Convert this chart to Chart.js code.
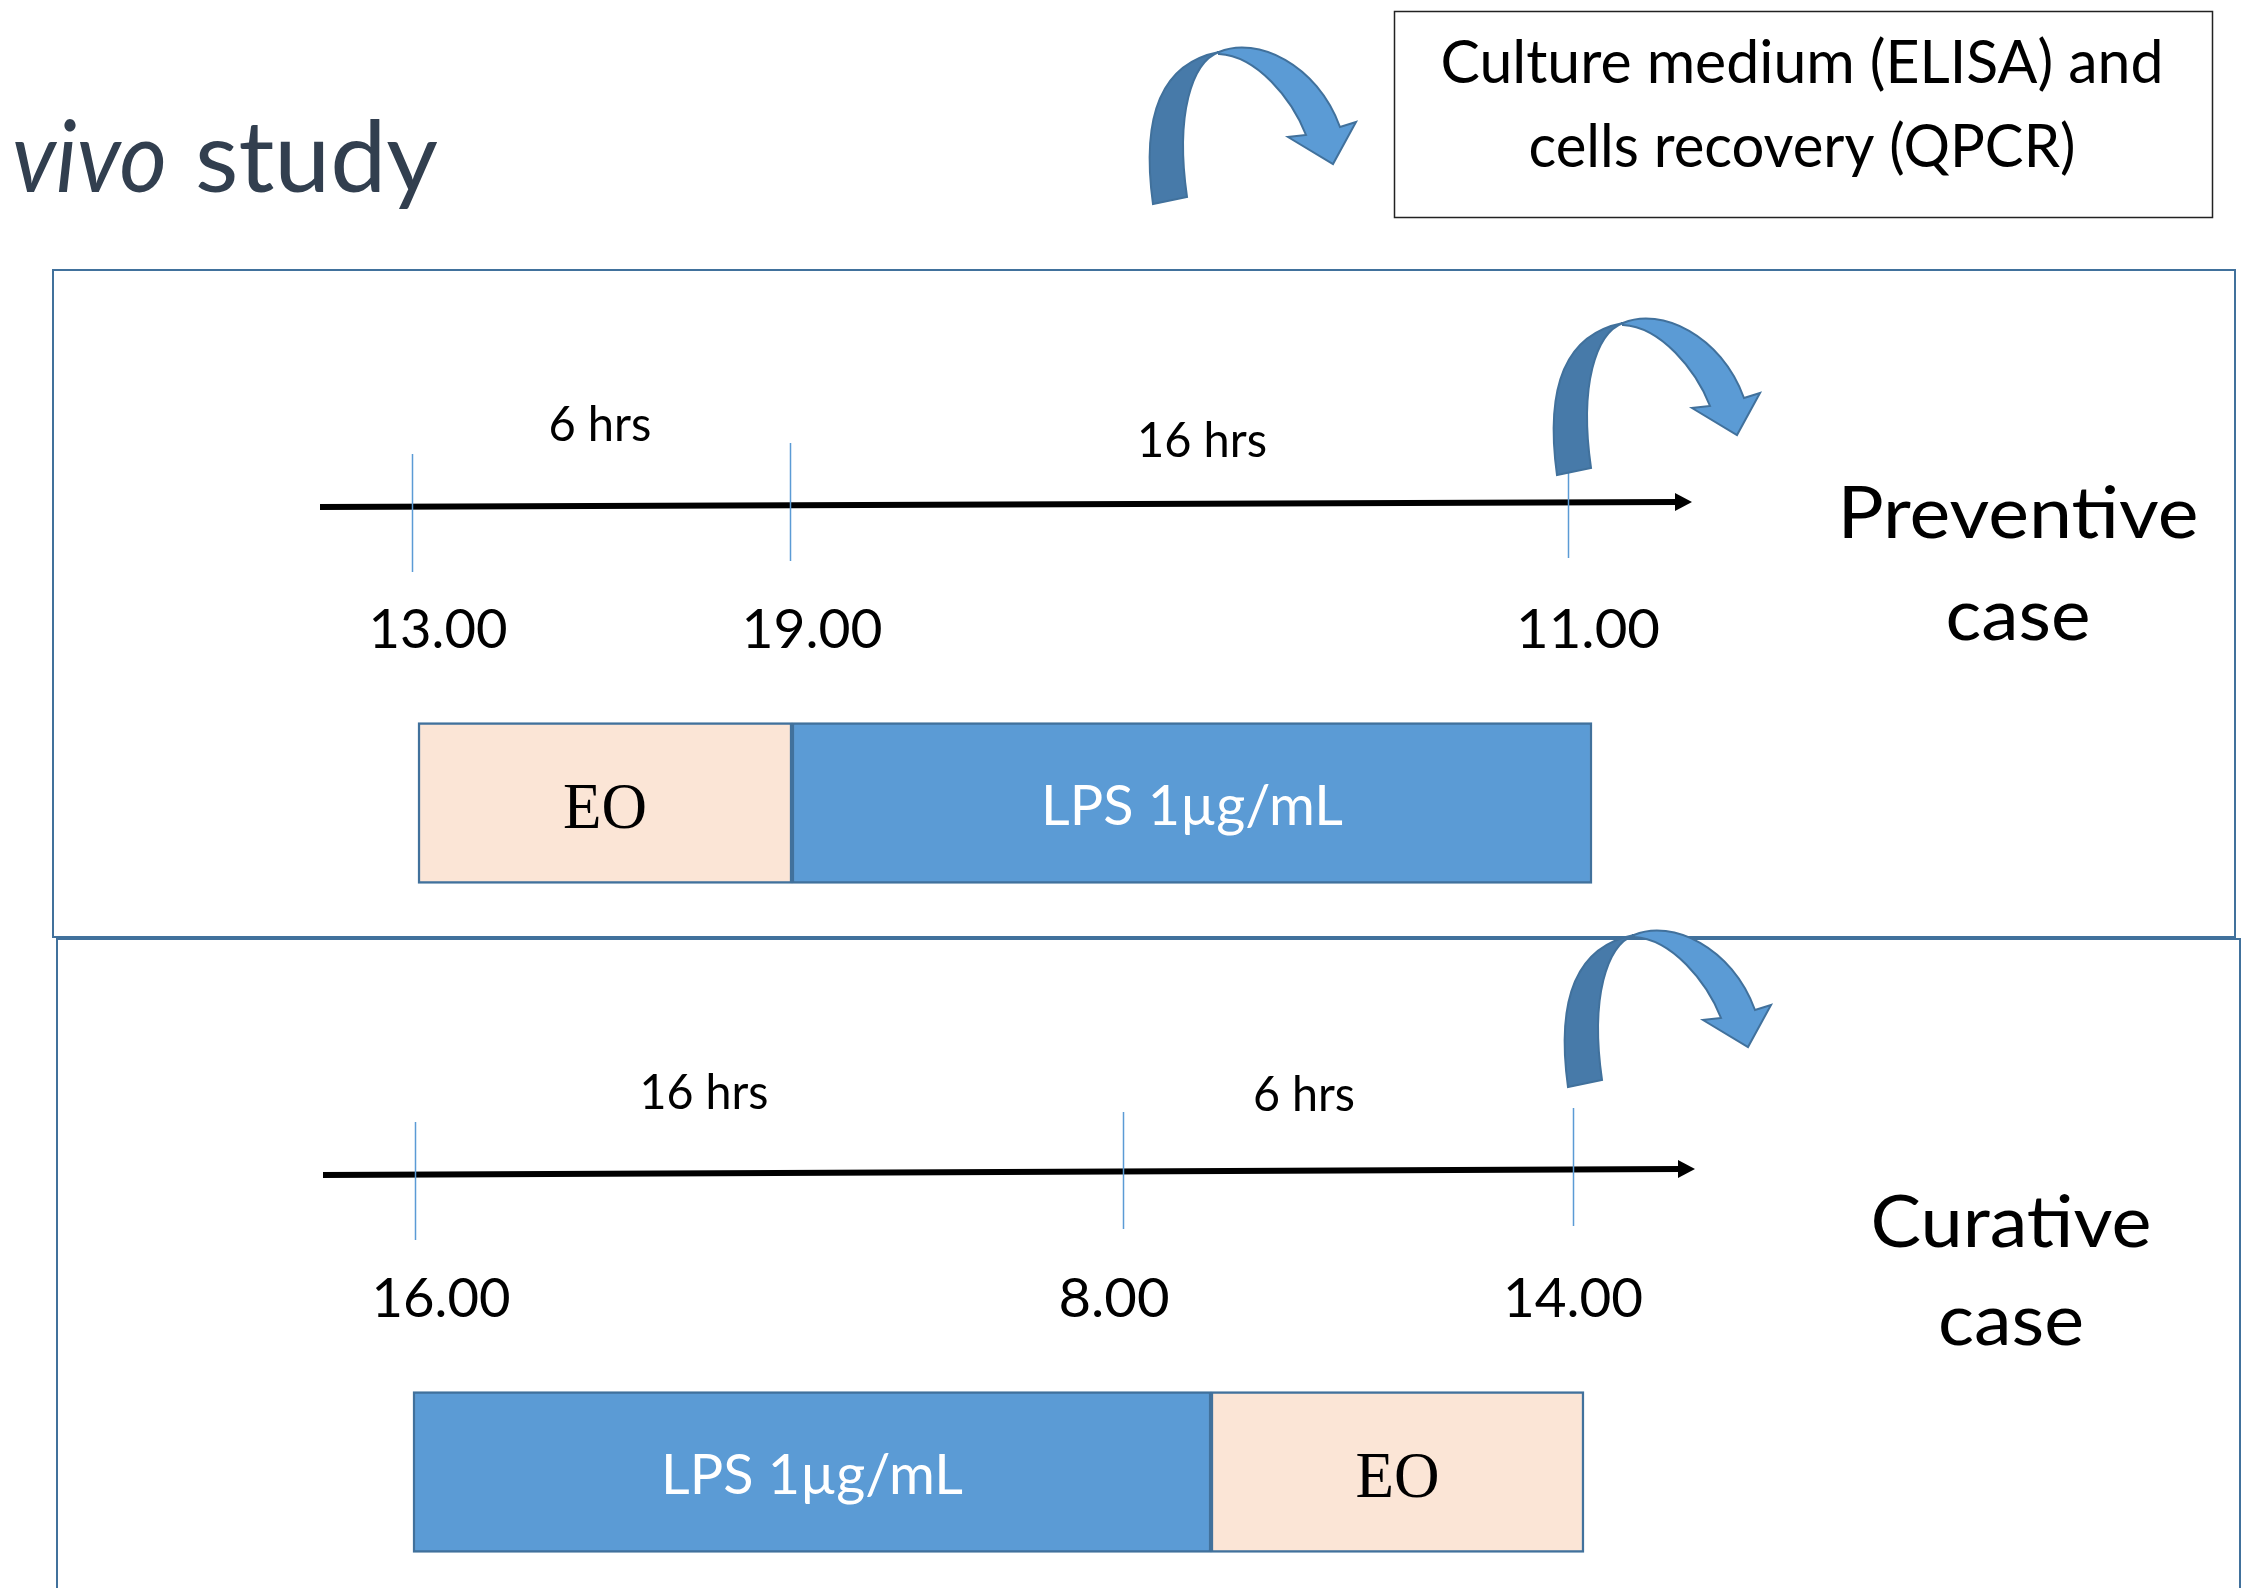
<!DOCTYPE html>
<html>
<head>
<meta charset="utf-8">
<script src="https://cdn.jsdelivr.net/npm/chart.js@4.4.1/dist/chart.umd.min.js"></script>
<style>
  html, body { margin: 0; padding: 0; background: #fff; overflow: hidden; }
  canvas { display: block; }
</style>
</head>
<body>
<canvas id="myChart" width="2244" height="1588"></canvas>
<script>
// the two protocols (one row each)
const panels = ['Preventive case', 'Curative case'];
// treatment blocks, as [start, end] along the drawn timeline
const eoRanges = [[418, 792], [1211, 1584]];
const lpsRanges = [[792, 1592], [413, 1211]];
// events on each timeline: where they sit and their clock labels
const eventPositions = [[412, 790, 1568], [415, 1123, 1573]];
const eventLabels = [['13.00', '19.00', '11.00'], ['16.00', '8.00', '14.00']];
const intervalLabels = [['6 hrs', '16 hrs'], ['16 hrs', '6 hrs']];

const SANS = 'Lato, "Open Sans", sans-serif';
const SERIF = '"Liberation Serif", "DejaVu Serif", serif';
const FRAME = '#41719C';

// page layout (pixels)
const layout = [
  {
    frame: [53, 270, 2182, 667],
    line: [320, 507, 1692, 502],
    tickY: [[454, 572], [443, 561], [445, 558]],
    labelX: [438, 812, 1588], labelW: [139, 141, 144], labelBase: 648,
    hrsX: [600, 1202], hrsW: [103, 130], hrsBase: [441, 457],
    caseX: 2018, caseBase: [538, 640], caseW: [361, 145],
    arrow: [1551, 315]
  },
  {
    frame: [57, 939, 2183, 700],
    line: [323, 1175, 1695, 1169],
    tickY: [[1122, 1240], [1112, 1229], [1108, 1226]],
    labelX: [441, 1114, 1573], labelW: [139, 111, 140], labelBase: 1317,
    hrsX: [704, 1304], hrsW: [129, 102], hrsBase: [1109, 1111],
    caseX: 2011, caseBase: [1247, 1345], caseW: [281, 146],
    arrow: [1562, 927]
  }
];

function fitText(ctx, str, x, y, font, width, color, align) {
  ctx.save();
  ctx.font = font;
  ctx.fillStyle = color;
  ctx.textBaseline = 'alphabetic';
  ctx.textAlign = align || 'center';
  const m = ctx.measureText(str).width;
  ctx.translate(x, y);
  ctx.scale(width / m, 1);
  ctx.fillText(str, 0, 0);
  ctx.restore();
}

// the curved "ribbon" arrow, ~210 x 161
function curvedArrow(ctx, ox, oy) {
  ctx.save();
  ctx.translate(ox, oy);
  ctx.lineWidth = 2;
  ctx.strokeStyle = FRAME;
  ctx.lineJoin = 'miter';
  // back (darker) strip
  ctx.beginPath();
  ctx.moveTo(6, 160);
  ctx.bezierCurveTo(-5, 80, 10, 20, 72, 8);
  ctx.bezierCurveTo(45, 18, 28, 70, 40, 153);
  ctx.closePath();
  ctx.fillStyle = '#477AA9';
  ctx.fill();
  ctx.stroke();
  // front strip with head
  ctx.beginPath();
  ctx.moveTo(72, 8);
  ctx.bezierCurveTo(110, -8, 170, 20, 193, 83);
  ctx.lineTo(209, 78);
  ctx.lineTo(186, 120);
  ctx.lineTo(141, 93);
  ctx.lineTo(159, 91);
  ctx.bezierCurveTo(145, 55, 110, 12, 72, 10);
  ctx.closePath();
  ctx.fillStyle = '#5B9BD5';
  ctx.fill();
  ctx.stroke();
  ctx.restore();
}

const diagram = {
  id: 'diagram',
  beforeDraw(chart) {
    const ctx = chart.ctx;
    ctx.save();
    ctx.fillStyle = '#fff';
    ctx.fillRect(0, 0, chart.width, chart.height);
    ctx.restore();
  },
  beforeDatasetsDraw(chart) {
    const ctx = chart.ctx;
    ctx.save();
    ctx.strokeStyle = FRAME;
    ctx.lineWidth = 2;
    layout.forEach(p => ctx.strokeRect(p.frame[0], p.frame[1], p.frame[2], p.frame[3]));
    ctx.restore();
  },
  afterDatasetsDraw(chart) {
    const ctx = chart.ctx;
    const xs = chart.scales.x;

    // labels inside the blocks
    chart.data.datasets.forEach((ds, di) => {
      chart.getDatasetMeta(di).data.forEach(el => {
        const cx = (el.x + el.base) / 2;
        if (ds.label === 'EO') {
          fitText(ctx, 'EO', cx, el.y + 25, '65px ' + SERIF, 84, '#000');
        } else {
          fitText(ctx, ds.label, cx, el.y + 22, '57px ' + SANS, 302, '#fff');
        }
      });
    });

    panels.forEach((name, i) => {
      const p = layout[i];
      // timeline with arrowhead
      const [x0, y0, x1, y1] = p.line;
      ctx.save();
      ctx.strokeStyle = '#000';
      ctx.fillStyle = '#000';
      ctx.lineWidth = 6;
      ctx.beginPath();
      ctx.moveTo(x0, y0);
      ctx.lineTo(x1 - 14, y1);
      ctx.stroke();
      ctx.beginPath();
      ctx.moveTo(x1 - 17, y1 - 9);
      ctx.lineTo(x1, y1);
      ctx.lineTo(x1 - 17, y1 + 9);
      ctx.closePath();
      ctx.fill();
      ctx.restore();

      // event ticks
      ctx.save();
      ctx.strokeStyle = '#5B9BD5';
      ctx.lineWidth = 1.5;
      eventPositions[i].forEach((v, k) => {
        const px = Math.round(xs.getPixelForValue(v)) + 0.5;
        ctx.beginPath();
        ctx.moveTo(px, p.tickY[k][0]);
        ctx.lineTo(px, p.tickY[k][1]);
        ctx.stroke();
      });
      ctx.restore();

      eventLabels[i].forEach((t, k) => {
        fitText(ctx, t, p.labelX[k], p.labelBase, '55px ' + SANS, p.labelW[k], '#000');
      });
      intervalLabels[i].forEach((t, k) => {
        fitText(ctx, t, p.hrsX[k], p.hrsBase[k], '48px ' + SANS, p.hrsW[k], '#000');
      });

      name.split(' ').forEach((w, k) => {
        fitText(ctx, w, p.caseX, p.caseBase[k], '71px ' + SANS, p.caseW[k], '#000');
      });

      curvedArrow(ctx, p.arrow[0], p.arrow[1]);
    });

    // heading (cut at the left edge in the original)
    fitText(ctx, 'vivo', 12, 192, 'italic 99px ' + SANS, 155, '#323F4F', 'left');
    fitText(ctx, 'study', 195, 192, '99px ' + SANS, 243, '#323F4F', 'left');

    // sampling box
    curvedArrow(ctx, 1147, 44);
    ctx.save();
    ctx.strokeStyle = '#222';
    ctx.lineWidth = 1.5;
    ctx.strokeRect(1394.5, 11.5, 818, 206);
    ctx.restore();
    fitText(ctx, 'Culture medium (ELISA) and', 1802, 83, '60px ' + SANS, 723, '#000');
    fitText(ctx, 'cells recovery (QPCR)', 1802, 167, '60px ' + SANS, 547, '#000');
  }
};

const ctx = document.getElementById('myChart').getContext('2d');
const myChart = new Chart(ctx, {
  type: 'bar',
  data: {
    labels: panels,
    datasets: [
      {
        label: 'EO',
        data: eoRanges,
        backgroundColor: '#FBE5D6',
        borderColor: FRAME,
        borderWidth: 2.5,
        borderSkipped: false,
        barThickness: 161,
        grouped: false,
        clip: false
      },
      {
        label: 'LPS 1µg/mL',
        data: lpsRanges,
        backgroundColor: '#5B9BD5',
        borderColor: FRAME,
        borderWidth: 2.5,
        borderSkipped: false,
        barThickness: 161,
        grouped: false,
        clip: false
      }
    ]
  },
  options: {
    responsive: false,
    devicePixelRatio: 1,
    animation: false,
    indexAxis: 'y', // horizontal blocks
    layout: { padding: { top: 803, bottom: 116, left: 0, right: 0 } },
    plugins: { legend: { display: false }, tooltip: { enabled: false } },
    scales: {
      x: { type: 'linear', min: 0, max: 2244, display: false },
      y: { type: 'category', offset: false, display: false }
    }
  },
  plugins: [diagram]
});
</script>
</body>
</html>
